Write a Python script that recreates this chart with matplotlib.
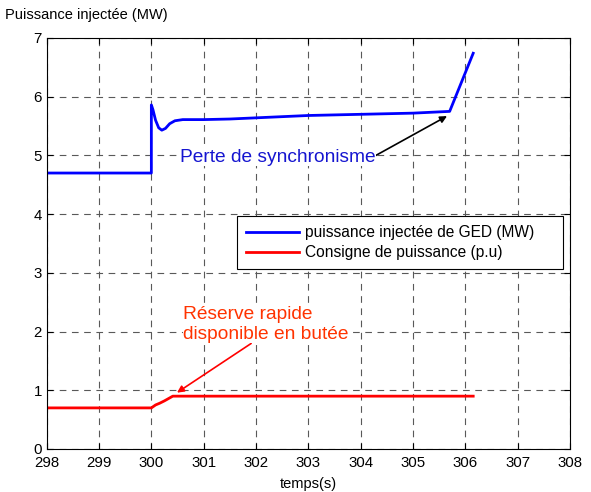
import numpy as np
import matplotlib.pyplot as plt

plt.rcParams['font.family'] = ['Liberation Sans', 'DejaVu Sans']

# puissance injectée de GED (MW)
t_ged = [298.0, 300.0, 300.0, 300.03, 300.08, 300.14, 300.2, 300.27, 300.35, 300.45,
         300.6, 301.0, 301.5, 302.0, 302.5, 303.0, 303.5, 304.0, 304.5, 305.0, 305.7, 306.15]
p_ged = [4.7, 4.7, 5.86, 5.78, 5.6, 5.47, 5.43, 5.46, 5.54, 5.59,
         5.61, 5.61, 5.62, 5.64, 5.66, 5.68, 5.69, 5.70, 5.71, 5.72, 5.75, 6.74]

# consigne de puissance (p.u)
t_cons = [298.0, 300.0, 300.08, 300.16, 300.25, 300.41, 306.15]
p_cons = [0.7, 0.7, 0.75, 0.78, 0.82, 0.9, 0.9]

xticks = np.arange(298, 309, 1)
yticks = np.arange(0, 8, 1)

fig = plt.figure(figsize=(5.91, 4.92), dpi=100)
ax = fig.add_axes([0.079, 0.0874, 0.8855, 0.8354])

ax.plot(t_ged, p_ged, color='#0000ff', lw=2, label='puissance injectée de GED (MW)')
ax.plot(t_cons, p_cons, color='#ff0000', lw=2, label='Consigne de puissance (p.u)')

ax.set_xlim(298, 308)
ax.set_ylim(0, 7)
ax.set_xticks(xticks)
ax.set_yticks(yticks)
ax.tick_params(direction='in', top=True, right=True, labelsize=10.8, length=4)
ax.tick_params(axis='x', pad=5)
ax.grid(True, color='0.35', linestyle=(0, (6, 5)), lw=0.8)
for s in ax.spines.values():
    s.set_linewidth(0.8)

ax.set_xlabel('temps(s)', fontsize=10.5, labelpad=5)
fig.text(0.008, 0.97, 'Puissance injectée (MW)', fontsize=10.5, ha='left', va='center')

ax.annotate('Perte de synchronisme', xy=(305.65, 5.67), xytext=(300.55, 4.97),
            fontsize=13.8, color='#1515d0', ha='left', va='center',
            bbox=dict(facecolor='white', edgecolor='none', pad=0),
            arrowprops=dict(arrowstyle='-|>', color='black', lw=1.2,
                            shrinkA=0, shrinkB=0, mutation_scale=10,
                            relpos=(1.0, 0.6)))
ax.annotate('Réserve rapide\ndisponible en butée', xy=(300.49, 0.96), xytext=(300.61, 2.12),
            fontsize=13.8, color='#ff3300', ha='left', va='center', linespacing=1.3,
            bbox=dict(facecolor='white', edgecolor='none', pad=0),
            arrowprops=dict(arrowstyle='-|>', color='#ff0000', lw=1.2,
                            shrinkA=0, shrinkB=0, mutation_scale=10,
                            relpos=(0.41, 0.0)))

# legend box stretched to a fixed width, entries left-aligned
leg = ax.legend(loc='upper left', bbox_to_anchor=(0.3637, 0.443, 0.623, 0.124),
                mode='expand', fontsize=11.2,
                frameon=True, fancybox=False, edgecolor='black', framealpha=1,
                handlelength=3.4, handletextpad=0.4, borderpad=0.6,
                labelspacing=0.3, borderaxespad=0)
leg.get_frame().set_linewidth(0.8)

plt.savefig('out.png', dpi=100)
